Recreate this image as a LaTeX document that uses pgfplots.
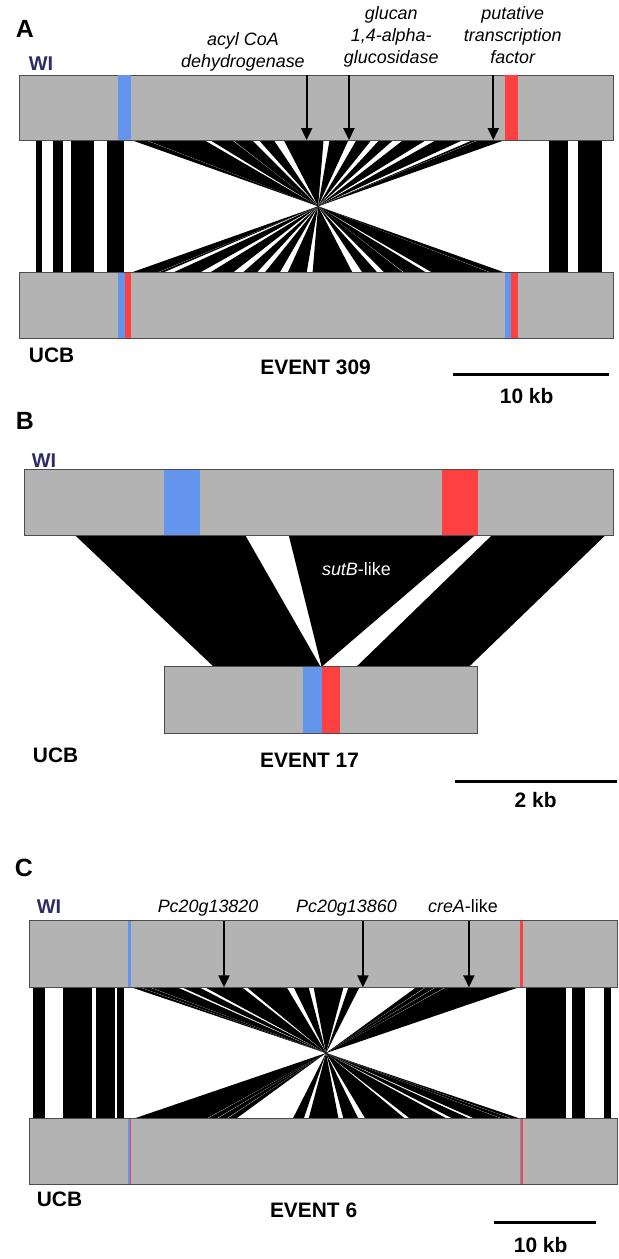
\documentclass[border=0pt]{standalone}
\usepackage{pgfplots}
\pgfplotsset{compat=1.18}
\usetikzlibrary{arrows.meta}
\usepackage{fontspec}
\setmainfont{Liberation Sans}

\definecolor{bargray}{RGB}{179,179,179}
\definecolor{bandblue}{RGB}{100,149,237}
\definecolor{bandred}{RGB}{255,64,64}
\definecolor{wicol}{RGB}{45,45,100}

\begin{document}
\begin{tikzpicture}[
    panel/.style={anchor=base west, font=\bfseries\fontsize{12.5}{14}\selectfont},
    lab/.style={font=\bfseries\fontsize{10.5}{12}\selectfont},
    wi/.style={anchor=base west, text=wicol, font=\bfseries\fontsize{10}{12}\selectfont},
    gene/.style={anchor=base, font=\itshape\fontsize{9}{11}\selectfont},
    arr/.style={line width=1pt, -{Triangle[width=5.5pt,length=6pt]}}
]
\begin{axis}[
    width=310pt, height=629.5pt, scale only axis,
    xmin=0, xmax=620, ymin=0, ymax=1259,
    y dir=reverse, hide axis, clip=false
]
\path (axis cs:0,0) rectangle (axis cs:620,1259);

% ---------------- A : event 309 ----------------
% syntenic blocks outside the inversion
\addplot[fill=black, draw=none] coordinates {(36.6,140)(42.1,140)(42.1,273)(36.6,273)} -- cycle;
\addplot[fill=black, draw=none] coordinates {(53.3,140)(62.8,140)(62.8,273)(53.3,273)} -- cycle;
\addplot[fill=black, draw=none] coordinates {(71.5,140)(94.6,140)(94.6,273)(71.5,273)} -- cycle;
\addplot[fill=black, draw=none] coordinates {(107.3,140)(124.8,140)(124.8,273)(107.3,273)} -- cycle;
\addplot[fill=black, draw=none] coordinates {(551.7,140)(570.3,140)(570.3,273)(551.7,273)} -- cycle;
\addplot[fill=black, draw=none] coordinates {(580.3,140)(605,140)(605,273)(580.3,273)} -- cycle;
% inverted blocks
\addplot[fill=black, draw=none] coordinates {(132,140)(146,140)(493,273)(507,273)} -- cycle;
\addplot[fill=black, draw=none] coordinates {(147,140)(205,140)(434,273)(492,273)} -- cycle;
\addplot[fill=black, draw=none] coordinates {(211,140)(233,140)(406,273)(428,273)} -- cycle;
\addplot[fill=black, draw=none] coordinates {(234,140)(253,140)(386,273)(405,273)} -- cycle;
\addplot[fill=black, draw=none] coordinates {(260,140)(275,140)(364,273)(379,273)} -- cycle;
\addplot[fill=black, draw=none] coordinates {(285,140)(325,140)(314,273)(354,273)} -- cycle;
\addplot[fill=black, draw=none] coordinates {(331,140)(350,140)(289,273)(308,273)} -- cycle;
\addplot[fill=black, draw=none] coordinates {(358,140)(373,140)(266,273)(281,273)} -- cycle;
\addplot[fill=black, draw=none] coordinates {(381,140)(395,140)(244,273)(258,273)} -- cycle;
\addplot[fill=black, draw=none] coordinates {(405,140)(428,140)(211,273)(234,273)} -- cycle;
\addplot[fill=black, draw=none] coordinates {(438,140)(465,140)(174,273)(201,273)} -- cycle;
\addplot[fill=black, draw=none] coordinates {(475,140)(480,140)(159,273)(164,273)} -- cycle;
\addplot[fill=black, draw=none] coordinates {(481,140)(507,140)(132,273)(158,273)} -- cycle;
% chromosomes
\addplot[fill=bargray, draw=black!70, line width=0.5pt] coordinates {(20,75)(616,75)(616,140)(20,140)} -- cycle;
\addplot[fill=bargray, draw=black!70, line width=0.5pt] coordinates {(20,273)(616,273)(616,339)(20,339)} -- cycle;
\addplot[fill=bandblue, draw=none] coordinates {(119,75)(132,75)(132,140)(119,140)} -- cycle;
\addplot[fill=bandred, draw=none] coordinates {(507,75)(520,75)(520,140)(507,140)} -- cycle;
\addplot[fill=bandblue, draw=none] coordinates {(119,273)(126,273)(126,339)(119,339)} -- cycle;
\addplot[fill=bandred, draw=none] coordinates {(126,273)(132,273)(132,339)(126,339)} -- cycle;
\addplot[fill=bandblue, draw=none] coordinates {(507,273)(513.5,273)(513.5,339)(507,339)} -- cycle;
\addplot[fill=bandred, draw=none] coordinates {(513.5,273)(520,273)(520,339)(513.5,339)} -- cycle;
% genes
\addplot[arr] coordinates {(308,75)(308,140)};
\addplot[arr] coordinates {(350.5,75)(350.5,140)};
\addplot[arr] coordinates {(495.5,75)(495.5,140)};
% scale bar
\addplot[line width=1.5pt] coordinates {(455,375)(612,375)};

\node[panel] at (axis cs:9,37) {A};
\node[wi] at (axis cs:22,70) {WI};
\node[gene] at (axis cs:244,45) {acyl CoA};
\node[gene] at (axis cs:244,67) {dehydrogenase};
\node[gene] at (axis cs:393,19) {glucan};
\node[gene] at (axis cs:393,41) {1,4-alpha-};
\node[gene] at (axis cs:393,63) {glucosidase};
\node[gene] at (axis cs:515,19) {putative};
\node[gene] at (axis cs:515,41) {transcription};
\node[gene] at (axis cs:515,63) {factor};
\node[lab, anchor=base west] at (axis cs:22,363) {UCB};
\node[lab, anchor=base] at (axis cs:317,375) {EVENT 309};
\node[lab, anchor=base] at (axis cs:529,405) {10 kb};

% ---------------- B : event 17 ----------------
\addplot[fill=black, draw=none] coordinates {(75.5,537)(246.4,537)(322,669)(214.6,669)} -- cycle;
\addplot[fill=black, draw=none] coordinates {(290,537)(477,537)(323,669)} -- cycle;
\addplot[fill=black, draw=none] coordinates {(494,537)(608,537)(471,669)(358,669)} -- cycle;
\addplot[fill=bargray, draw=black!70, line width=0.5pt] coordinates {(25,471)(616,471)(616,537)(25,537)} -- cycle;
\addplot[fill=bargray, draw=black!70, line width=0.5pt] coordinates {(165,669)(480,669)(480,736)(165,736)} -- cycle;
\addplot[fill=bandblue, draw=none] coordinates {(165,471)(201,471)(201,537)(165,537)} -- cycle;
\addplot[fill=bandred, draw=none] coordinates {(444,471)(480,471)(480,537)(444,537)} -- cycle;
\addplot[fill=bandblue, draw=none] coordinates {(304.5,669)(323,669)(323,736)(304.5,736)} -- cycle;
\addplot[fill=bandred, draw=none] coordinates {(323,669)(342,669)(342,736)(323,736)} -- cycle;
\addplot[line width=1.5pt] coordinates {(457,784)(620,784)};

\node[panel] at (axis cs:9,431) {B};
\node[wi] at (axis cs:25,469) {WI};
\node[anchor=base, text=white, font=\fontsize{9}{11}\selectfont] at (axis cs:358,577) {\textit{sutB}-like};
\node[lab, anchor=base west] at (axis cs:26,765) {UCB};
\node[lab, anchor=base] at (axis cs:311,770) {EVENT 17};
\node[lab, anchor=base] at (axis cs:538,810) {2 kb};

% ---------------- C : event 6 ----------------
\addplot[fill=black, draw=none] coordinates {(33,991)(45.7,991)(45.7,1123)(33,1123)} -- cycle;
\addplot[fill=black, draw=none] coordinates {(63.6,991)(92.2,991)(92.2,1123)(63.6,1123)} -- cycle;
\addplot[fill=black, draw=none] coordinates {(96.2,991)(115.3,991)(115.3,1123)(96.2,1123)} -- cycle;
\addplot[fill=black, draw=none] coordinates {(117.6,991)(124.8,991)(124.8,1123)(117.6,1123)} -- cycle;
\addplot[fill=black, draw=none] coordinates {(528.6,991)(568.4,991)(568.4,1123)(528.6,1123)} -- cycle;
\addplot[fill=black, draw=none] coordinates {(575,991)(587.4,991)(587.4,1123)(575,1123)} -- cycle;
\addplot[fill=black, draw=none] coordinates {(607,991)(614,991)(614,1123)(607,1123)} -- cycle;
\addplot[fill=black, draw=none] coordinates {(132,991)(140,991)(515,1123)(523,1123)} -- cycle;
\addplot[fill=black, draw=none] coordinates {(141,991)(150,991)(505,1123)(514,1123)} -- cycle;
\addplot[fill=black, draw=none] coordinates {(151,991)(178,991)(477,1123)(504,1123)} -- cycle;
\addplot[fill=black, draw=none] coordinates {(183,991)(200,991)(455,1123)(472,1123)} -- cycle;
\addplot[fill=black, draw=none] coordinates {(206,991)(243,991)(412,1123)(449,1123)} -- cycle;
\addplot[fill=black, draw=none] coordinates {(248,991)(288,991)(367,1123)(407,1123)} -- cycle;
\addplot[fill=black, draw=none] coordinates {(295,991)(310,991)(345,1123)(360,1123)} -- cycle;
\addplot[fill=black, draw=none] coordinates {(315,991)(345,991)(310,1123)(340,1123)} -- cycle;
\addplot[fill=black, draw=none] coordinates {(350,991)(361,991)(294,1123)(305,1123)} -- cycle;
\addplot[fill=black, draw=none] coordinates {(418,991)(427,991)(228,1123)(237,1123)} -- cycle;
\addplot[fill=black, draw=none] coordinates {(428,991)(437,991)(218,1123)(227,1123)} -- cycle;
\addplot[fill=black, draw=none] coordinates {(438,991)(447,991)(208,1123)(217,1123)} -- cycle;
\addplot[fill=black, draw=none] coordinates {(448,991)(521,991)(134,1123)(207,1123)} -- cycle;
\addplot[fill=bargray, draw=black!70, line width=0.5pt] coordinates {(30,924)(620,924)(620,991)(30,991)} -- cycle;
\addplot[fill=bargray, draw=black!70, line width=0.5pt] coordinates {(30,1123)(620,1123)(620,1189)(30,1189)} -- cycle;
\addplot[fill=bandblue, draw=none] coordinates {(129,924)(131.5,924)(131.5,991)(129,991)} -- cycle;
\addplot[fill=bandred, draw=none] coordinates {(522,924)(525,924)(525,991)(522,991)} -- cycle;
\addplot[fill=bandblue, draw=none] coordinates {(129,1123)(130.5,1123)(130.5,1189)(129,1189)} -- cycle;
\addplot[fill=bandred, draw=none] coordinates {(130.5,1123)(132,1123)(132,1189)(130.5,1189)} -- cycle;
\addplot[fill=bandblue, draw=none] coordinates {(522,1123)(523.5,1123)(523.5,1189)(522,1189)} -- cycle;
\addplot[fill=bandred, draw=none] coordinates {(523.5,1123)(525,1123)(525,1189)(523.5,1189)} -- cycle;
\addplot[arr] coordinates {(225,924)(225,991)};
\addplot[arr] coordinates {(364.5,924)(364.5,991)};
\addplot[arr] coordinates {(471,924)(471,991)};
\addplot[line width=1.5pt] coordinates {(496,1227)(599,1227)};

\node[panel] at (axis cs:8,880) {C};
\node[wi] at (axis cs:30,917) {WI};
\node[gene] at (axis cs:209,916) {Pc20g13820};
\node[gene] at (axis cs:348,916) {Pc20g13860};
\node[anchor=base, font=\fontsize{9}{11}\selectfont] at (axis cs:465,916) {\textit{creA}-like};
\node[lab, anchor=base west] at (axis cs:30,1211) {UCB};
\node[lab, anchor=base] at (axis cs:315,1222) {EVENT 6};
\node[lab, anchor=base] at (axis cs:543,1257) {10 kb};
\end{axis}
\end{tikzpicture}
\end{document}
